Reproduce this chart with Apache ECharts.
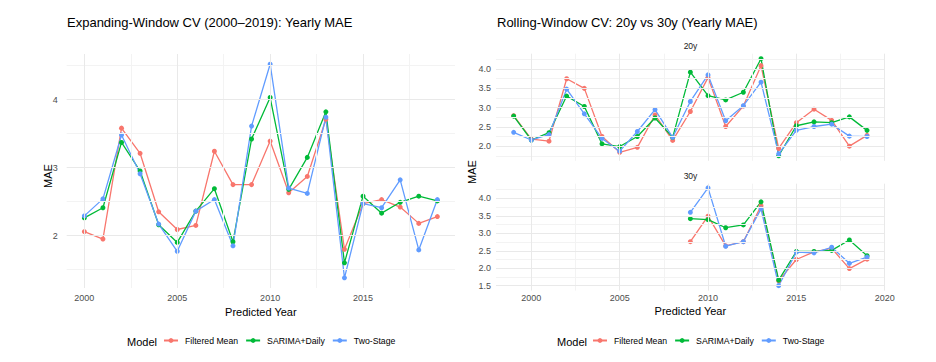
<!DOCTYPE html>
<html>
<head>
<meta charset="utf-8">
<script src="https://cdn.jsdelivr.net/npm/echarts@6/dist/echarts.min.js"></script>
<style>html,body{margin:0;padding:0;background:#fff;}#c{width:936px;height:362px;}</style>
</head>
<body>
<div id="c"></div>
<script>
// ---- data ----
const modelNames = ['Filtered Mean', 'SARIMA+Daily', 'Two-Stage'];
const modelColors = ['#F8766D', '#00BA38', '#619CFF'];

// Expanding window, 2000-2019
const expYears = [2000,2001,2002,2003,2004,2005,2006,2007,2008,2009,2010,2011,2012,2013,2014,2015,2016,2017,2018,2019];
const expFiltered = [2.06,1.95,3.58,3.21,2.35,2.09,2.15,3.24,2.75,2.75,3.39,2.63,2.87,3.71,1.80,2.47,2.53,2.42,2.18,2.28];
const expSarima   = [2.26,2.41,3.37,2.95,2.16,1.90,2.36,2.69,1.91,3.42,4.03,2.68,3.15,3.82,1.60,2.58,2.33,2.49,2.58,2.51];
const expTwoStage = [2.29,2.54,3.48,2.91,2.17,1.77,2.36,2.53,1.85,3.61,4.52,2.70,2.62,3.74,1.38,2.47,2.41,2.82,1.79,2.53];

// Rolling window 20y, 1999-2019
const r20Years = [1999,2000,2001,2002,2003,2004,2005,2006,2007,2008,2009,2010,2011,2012,2013,2014,2015,2016,2017,2018,2019];
const r20Filtered = [2.79,2.18,2.13,3.75,3.50,2.25,1.84,1.97,2.81,2.15,2.90,3.78,2.51,3.04,4.09,1.94,2.61,2.96,2.67,2.00,2.28];
const r20Sarima   = [2.78,2.16,2.35,3.30,3.03,2.06,1.99,2.25,2.73,2.23,3.92,3.31,3.20,3.40,4.27,1.75,2.53,2.63,2.61,2.76,2.41];
const r20TwoStage = [2.36,2.16,2.30,3.48,2.84,2.20,1.87,2.38,2.95,2.23,3.16,3.85,2.66,3.05,3.66,1.80,2.41,2.51,2.57,2.26,2.25];

// Rolling window 30y, 2009-2019
const r30Years = [2009,2010,2011,2012,2013,2014,2015,2016,2017,2018,2019];
const r30Filtered = [2.76,3.49,2.64,2.76,3.79,1.64,2.25,2.47,2.57,1.99,2.26];
const r30Sarima   = [3.42,3.39,3.16,3.24,3.90,1.66,2.48,2.48,2.51,2.81,2.36];
const r30TwoStage = [3.60,4.30,2.63,2.76,3.70,1.50,2.46,2.44,2.60,2.14,2.32];

// tick labels
const expXTicks = [2000, 2005, 2010, 2015];
const expYTicks = [2, 3, 4];
const rollXTicks = [2000, 2005, 2010, 2015, 2020];
const r20YTicks = [2.0, 2.5, 3.0, 3.5, 4.0];
const r30YTicks = [1.5, 2.0, 2.5, 3.0, 3.5, 4.0];

// ---- build ----
const zip = (xs, ys) => xs.map((x, i) => [x, ys[i]]);
const mids = (t, lo, hi) => {
  const step = t[1] - t[0];
  const out = [];
  for (let i = -1; i < t.length; i++) {
    const v = (i < 0 ? t[0] - step / 2 : t[i] + step / 2);
    if (v > lo && v < hi) out.push(v);
  }
  return out;
};
const FONT = '"Liberation Sans", Arial, Helvetica, sans-serif';
const tickColor = '#4d4d4d';

function gridSeries(xi, xMajor, xMinor, yMajor, yMinor) {
  const lines = [];
  xMinor.forEach(v => lines.push({xAxis: v, lineStyle: {color: '#f3f3f3', width: 1, type: 'solid'}}));
  yMinor.forEach(v => lines.push({yAxis: v, lineStyle: {color: '#f3f3f3', width: 1, type: 'solid'}}));
  xMajor.forEach(v => lines.push({xAxis: v, lineStyle: {color: '#e9e9e9', width: 1, type: 'solid'}}));
  yMajor.forEach(v => lines.push({yAxis: v, lineStyle: {color: '#e9e9e9', width: 1, type: 'solid'}}));
  return {
    type: 'line', xAxisIndex: xi, yAxisIndex: xi, data: [], silent: true, z: 0,
    markLine: {silent: true, symbol: ['none', 'none'], label: {show: false}, animation: false, data: lines}
  };
}

function dataSeries(xi, name, color, xs, ys) {
  return {
    type: 'line', name: name, xAxisIndex: xi, yAxisIndex: xi, data: zip(xs, ys),
    symbol: 'circle', symbolSize: 5, showSymbol: true, z: 3,
    itemStyle: {color: color},
    lineStyle: {color: color, width: 1.3, type: 'solid'},
    emphasis: {disabled: true}, animation: false
  };
}

const expMin = 1.23, expMax = 4.67;
const r20Min = 1.62, r20Max = 4.40;
const r30Min = 1.36, r30Max = 4.42;
const yearFmt = v => String(Math.round(v));

const option = {
  backgroundColor: '#ffffff',
  animation: false,
  textStyle: {fontFamily: FONT},
  title: [
    {text: 'Expanding-Window CV (2000–2019): Yearly MAE', left: 67, top: 16, padding: 0,
     textStyle: {fontSize: 13, fontWeight: 'normal', color: '#000', fontFamily: FONT}},
    {text: 'Rolling-Window CV: 20y vs 30y (Yearly MAE)', left: 497, top: 16, padding: 0,
     textStyle: {fontSize: 13, fontWeight: 'normal', color: '#000', fontFamily: FONT}}
  ],
  grid: [
    {left: 66.7, top: 54, width: 388.3, height: 234},
    {left: 496, top: 53.7, width: 388.7, height: 107.1},
    {left: 496, top: 183.7, width: 388.7, height: 106.9}
  ],
  xAxis: [
    {type: 'value', gridIndex: 0, min: 1999.05, max: 2019.95,
     name: 'Predicted Year', nameLocation: 'middle', nameGap: 16,
     nameTextStyle: {fontSize: 11, color: '#000', fontFamily: FONT},
     axisLine: {show: false}, axisTick: {show: false}, splitLine: {show: false},
     axisLabel: {customValues: expXTicks, formatter: yearFmt, fontSize: 9, color: tickColor, margin: 5, fontFamily: FONT}},
    {type: 'value', gridIndex: 1, min: 1998, max: 2020,
     axisLine: {show: false}, axisTick: {show: false}, splitLine: {show: false},
     axisLabel: {show: false}},
    {type: 'value', gridIndex: 2, min: 1998, max: 2020,
     name: 'Predicted Year', nameLocation: 'middle', nameGap: 15,
     nameTextStyle: {fontSize: 11, color: '#000', fontFamily: FONT},
     axisLine: {show: false}, axisTick: {show: false}, splitLine: {show: false},
     axisLabel: {customValues: rollXTicks, formatter: yearFmt, fontSize: 9, color: tickColor, margin: 3, fontFamily: FONT}}
  ],
  yAxis: [
    {type: 'value', gridIndex: 0, min: expMin, max: expMax,
     axisLine: {show: false}, axisTick: {show: false}, splitLine: {show: false},
     axisLabel: {customValues: expYTicks, fontSize: 9, color: tickColor, margin: 9, fontFamily: FONT}},
    {type: 'value', gridIndex: 1, min: r20Min, max: r20Max,
     axisLine: {show: false}, axisTick: {show: false}, splitLine: {show: false},
     axisLabel: {customValues: r20YTicks, fontSize: 9, color: tickColor, margin: 5, fontFamily: FONT,
                 formatter: v => v.toFixed(1)}},
    {type: 'value', gridIndex: 2, min: r30Min, max: r30Max,
     axisLine: {show: false}, axisTick: {show: false}, splitLine: {show: false},
     axisLabel: {customValues: r30YTicks, fontSize: 9, color: tickColor, margin: 5, fontFamily: FONT,
                 formatter: v => v.toFixed(1)}}
  ],
  legend: [
    {left: 163, top: 336, padding: 0, data: modelNames, itemWidth: 14, itemHeight: 6, itemGap: 7,
     selectedMode: false, textStyle: {fontSize: 8.7, color: '#000', fontFamily: FONT, padding: [0, 0, 0, 2]}},
    {left: 592, top: 336, padding: 0, data: modelNames, itemWidth: 14, itemHeight: 6, itemGap: 7,
     selectedMode: false, textStyle: {fontSize: 8.7, color: '#000', fontFamily: FONT, padding: [0, 0, 0, 2]}}
  ],
  graphic: [
    {type: 'text', left: 127, top: 336, style: {text: 'Model', fontSize: 11, fill: '#000', fontFamily: FONT}},
    {type: 'text', left: 557, top: 336, style: {text: 'Model', fontSize: 11, fill: '#000', fontFamily: FONT}},
    {type: 'text', x: 690.5, y: 46, style: {text: '20y', fontSize: 8.5, fill: '#1a1a1a', fontFamily: FONT, align: 'center', verticalAlign: 'middle'}},
    {type: 'text', x: 690.5, y: 176, style: {text: '30y', fontSize: 8.5, fill: '#1a1a1a', fontFamily: FONT, align: 'center', verticalAlign: 'middle'}},
    {type: 'text', x: 48, y: 176, rotation: Math.PI / 2, style: {text: 'MAE', fontSize: 11, fill: '#000', fontFamily: FONT, align: 'center', verticalAlign: 'middle'}},
    {type: 'text', x: 472, y: 172, rotation: Math.PI / 2, style: {text: 'MAE', fontSize: 11, fill: '#000', fontFamily: FONT, align: 'center', verticalAlign: 'middle'}}
  ],
  series: [
    gridSeries(0, expXTicks, mids(expXTicks, 1999.05, 2019.95), expYTicks, mids(expYTicks, expMin, expMax)),
    gridSeries(1, rollXTicks, mids(rollXTicks, 1998, 2020), r20YTicks, mids(r20YTicks, r20Min, r20Max)),
    gridSeries(2, rollXTicks, mids(rollXTicks, 1998, 2020), r30YTicks, mids(r30YTicks, r30Min, r30Max)),
    dataSeries(0, modelNames[0], modelColors[0], expYears, expFiltered),
    dataSeries(0, modelNames[1], modelColors[1], expYears, expSarima),
    dataSeries(0, modelNames[2], modelColors[2], expYears, expTwoStage),
    dataSeries(1, modelNames[0], modelColors[0], r20Years, r20Filtered),
    dataSeries(1, modelNames[1], modelColors[1], r20Years, r20Sarima),
    dataSeries(1, modelNames[2], modelColors[2], r20Years, r20TwoStage),
    dataSeries(2, modelNames[0], modelColors[0], r30Years, r30Filtered),
    dataSeries(2, modelNames[1], modelColors[1], r30Years, r30Sarima),
    dataSeries(2, modelNames[2], modelColors[2], r30Years, r30TwoStage)
  ]
};

const chart = echarts.init(document.getElementById('c'), null, {renderer: 'svg'});
chart.setOption(option);
</script>
</body>
</html>
